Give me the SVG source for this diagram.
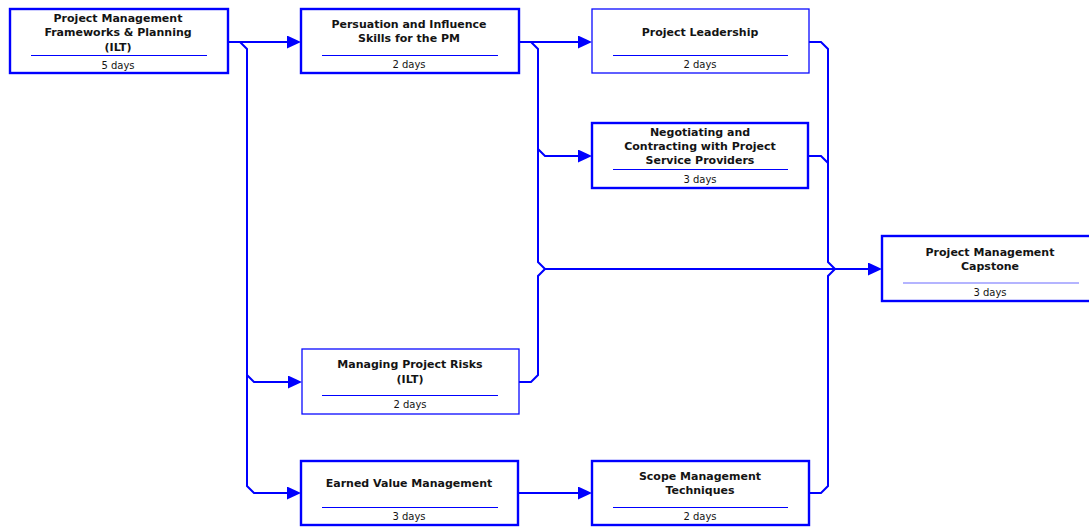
<svg xmlns="http://www.w3.org/2000/svg" width="1089" height="527" viewBox="0 0 1089 527">
  <style>
    .box { fill: #ffffff; stroke: #0000ff; stroke-width: 2.4; }
    .box.thin { stroke: #0a0aff; stroke-width: 1.3; }
    .sep { stroke: #0000ff; stroke-width: 1.1; }
    .sep.light { stroke: #6a6aff; stroke-width: 1.2; }
    .title { font-family: "DejaVu Sans", Verdana, sans-serif; font-weight: bold; font-size: 11px; fill: #141414; text-anchor: middle; dominant-baseline: central; }
    .dur { font-family: "DejaVu Sans", Verdana, sans-serif; font-size: 10px; fill: #141414; text-anchor: middle; dominant-baseline: central; }
    .link { fill: none; stroke: #0000ff; stroke-width: 2; stroke-linejoin: miter; }
  </style>
  <defs>
    <marker id="arrow" markerUnits="userSpaceOnUse" markerWidth="14" markerHeight="13" refX="6" refY="6.5" orient="auto">
      <path d="M0,0 L14,6.5 L0,13 z" fill="#0000ff"/>
    </marker>
  </defs>

  <rect width="1089" height="527" fill="#ffffff"/>

  <g id="connectors">
    <!-- Frameworks & Planning successors -->
    <path class="link" d="M228,42 H293" marker-end="url(#arrow)"/>
    <path class="link" d="M240,42 L247,49 V375 L254,382 H294" marker-end="url(#arrow)"/>
    <path class="link" d="M247,375 V486 L254,493 H293" marker-end="url(#arrow)"/>
    <!-- Persuation and Influence successors -->
    <path class="link" d="M519,42 H584" marker-end="url(#arrow)"/>
    <path class="link" d="M531,42 L538,49 V149 L545,156 H584" marker-end="url(#arrow)"/>
    <path class="link" d="M538,149 V262 L545,269 H874" marker-end="url(#arrow)"/>
    <!-- Managing Project Risks to Capstone -->
    <path class="link" d="M519,382 H531 L538,375 V276 L545,269"/>
    <!-- Leadership, Negotiating and Scope into Capstone -->
    <path class="link" d="M809,42 H821 L828,49 V262 L835,269"/>
    <path class="link" d="M808,156 H821 L828,163 V262"/>
    <path class="link" d="M809,493 H821 L828,486 V276 L835,269"/>
    <!-- Earned Value to Scope -->
    <path class="link" d="M518,493 H584" marker-end="url(#arrow)"/>
  </g>

  <g id="node-frameworks">
    <rect class="box" x="10" y="9" width="218" height="64"/>
    <text class="title" x="118" y="18">Project Management</text>
    <text class="title" x="118" y="32">Frameworks &amp; Planning</text>
    <text class="title" x="118" y="47">(ILT)</text>
    <line class="sep" x1="31" y1="55.5" x2="207" y2="55.5"/>
    <text class="dur" x="118" y="65">5 days</text>
  </g>

  <g id="node-persuation">
    <rect class="box" x="301" y="9" width="218" height="64"/>
    <text class="title" x="409" y="24.5">Persuation and Influence</text>
    <text class="title" x="409" y="38.5">Skills for the PM</text>
    <line class="sep" x1="322" y1="55.5" x2="498" y2="55.5"/>
    <text class="dur" x="409" y="64.5">2 days</text>
  </g>

  <g id="node-leadership">
    <rect class="box thin" x="592" y="9" width="217" height="64"/>
    <text class="title" x="700" y="32">Project Leadership</text>
    <line class="sep" x1="613" y1="55.5" x2="788" y2="55.5"/>
    <text class="dur" x="700" y="64.5">2 days</text>
  </g>

  <g id="node-negotiating">
    <rect class="box" x="592" y="123" width="216" height="65"/>
    <text class="title" x="700" y="132">Negotiating and</text>
    <text class="title" x="700" y="146">Contracting with Project</text>
    <text class="title" x="700" y="160">Service Providers</text>
    <line class="sep" x1="613" y1="169.5" x2="788" y2="169.5"/>
    <text class="dur" x="700" y="179">3 days</text>
  </g>

  <g id="node-capstone">
    <rect class="box" x="882" y="236" width="216" height="65"/>
    <text class="title" x="990" y="252">Project Management</text>
    <text class="title" x="990" y="266">Capstone</text>
    <line class="sep light" x1="903" y1="283" x2="1079" y2="283"/>
    <text class="dur" x="990" y="292">3 days</text>
  </g>

  <g id="node-risks">
    <rect class="box thin" x="302" y="349" width="217" height="65"/>
    <text class="title" x="410" y="364">Managing Project Risks</text>
    <text class="title" x="410" y="379">(ILT)</text>
    <line class="sep" x1="322" y1="395.5" x2="498" y2="395.5"/>
    <text class="dur" x="410" y="404.5">2 days</text>
  </g>

  <g id="node-earned-value">
    <rect class="box" x="301" y="461" width="217" height="64"/>
    <text class="title" x="409" y="483">Earned Value Management</text>
    <line class="sep" x1="322" y1="507.5" x2="498" y2="507.5"/>
    <text class="dur" x="409" y="516">3 days</text>
  </g>

  <g id="node-scope">
    <rect class="box" x="592" y="461" width="217" height="64"/>
    <text class="title" x="700" y="476">Scope Management</text>
    <text class="title" x="700" y="490">Techniques</text>
    <line class="sep" x1="613" y1="507.5" x2="788" y2="507.5"/>
    <text class="dur" x="700" y="516">2 days</text>
  </g>
</svg>
